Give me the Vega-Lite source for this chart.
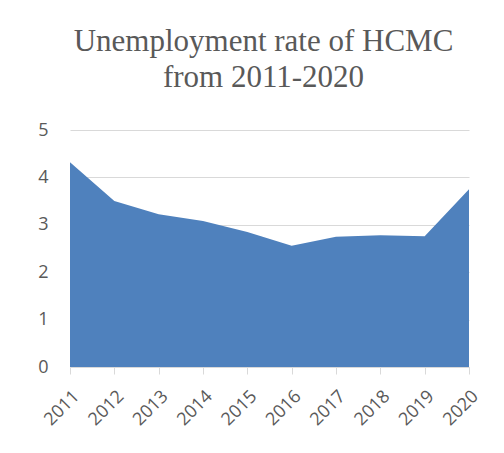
{
  "$schema": "https://vega.github.io/schema/vega-lite/v6.json",
  "width": 399,
  "height": 237,
  "autosize": {"type": "none"},
  "padding": {"left": 70, "top": 130, "right": 35, "bottom": 86},
  "background": "white",
  "title": {
    "text": ["Unemployment rate of HCMC", "from 2011-2020"],
    "font": "Liberation Serif",
    "fontSize": 31,
    "fontWeight": "normal",
    "color": "#595959",
    "anchor": "middle",
    "lineHeight": 36,
    "offset": 27,
    "dx": -6
  },
  "data": {
    "values": [
      {"year": "2011", "rate": 4.32},
      {"year": "2012", "rate": 3.50},
      {"year": "2013", "rate": 3.22},
      {"year": "2014", "rate": 3.08},
      {"year": "2015", "rate": 2.85},
      {"year": "2016", "rate": 2.56},
      {"year": "2017", "rate": 2.75},
      {"year": "2018", "rate": 2.78},
      {"year": "2019", "rate": 2.76},
      {"year": "2020", "rate": 3.75}
    ]
  },
  "mark": {"type": "area", "color": "#4F81BD", "opacity": 1},
  "encoding": {
    "x": {
      "field": "year",
      "type": "ordinal",
      "scale": {"type": "point", "padding": 0},
      "axis": {
        "title": null,
        "labelAngle": -45,
        "labelFont": "Open Sans",
        "labelFontSize": 18,
        "labelColor": "#595959",
        "domainColor": "#d9d9d9",
        "domainWidth": 1,
        "tickColor": "#d9d9d9",
        "tickSize": 7,
        "labelPadding": 13,
        "grid": false
      }
    },
    "y": {
      "field": "rate",
      "type": "quantitative",
      "scale": {"domain": [0, 5]},
      "axis": {
        "title": null,
        "values": [0, 1, 2, 3, 4, 5],
        "labelFont": "Open Sans",
        "labelFontSize": 18,
        "labelColor": "#595959",
        "labelPadding": 22,
        "domain": false,
        "ticks": false,
        "grid": true,
        "gridColor": "#d9d9d9",
        "gridWidth": 1.2
      }
    }
  },
  "config": {"view": {"stroke": null}}
}
